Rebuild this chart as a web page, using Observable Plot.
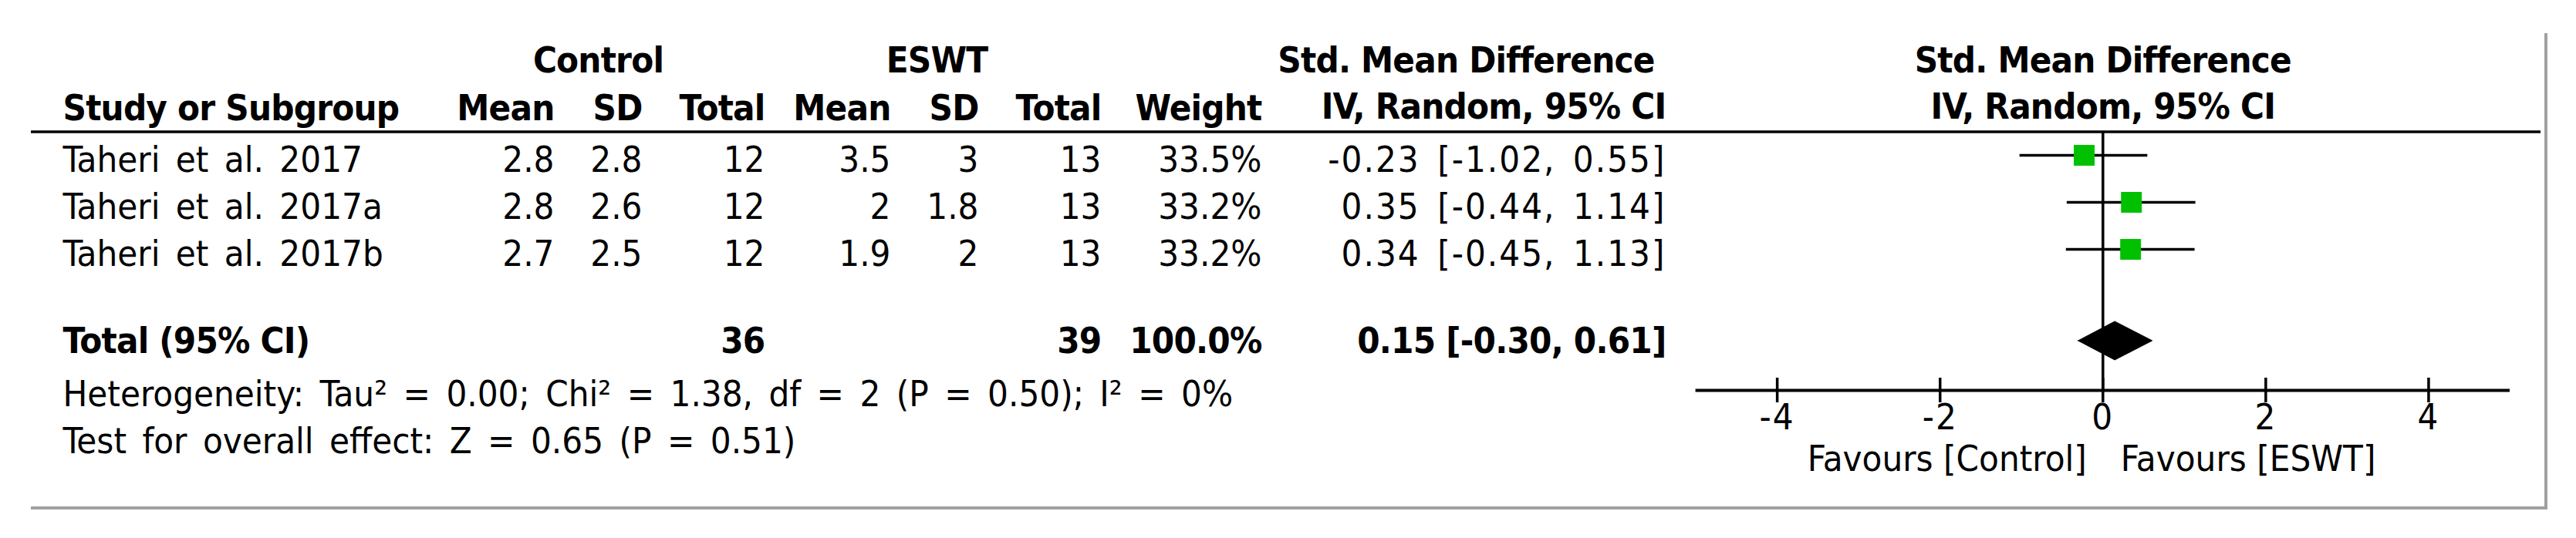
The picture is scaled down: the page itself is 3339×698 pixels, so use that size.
<!DOCTYPE html>
<html><head><meta charset="utf-8">
<script src="https://cdn.jsdelivr.net/npm/d3@7"></script>
<script src="https://cdn.jsdelivr.net/npm/@observablehq/plot@0.6"></script>
<style>
html,body{margin:0;padding:0;background:#fff;}
#wrap{position:relative;width:3339px;height:698px;overflow:hidden;}
#frame{position:absolute;left:40px;top:43px;width:3258px;height:614px;border-right:4px solid #a0a0a0;border-bottom:4px solid #a0a0a0;pointer-events:none;}
#chart{position:absolute;left:0;top:0;}
g[font-style="normal"] text{word-spacing:7px;}
g[font-variant="tabular-nums"] text{letter-spacing:2px;}
g[font-weight="bold"] text{letter-spacing:-0.8px;word-spacing:0;}
</style></head><body>
<div id="wrap"><div id="chart"></div><div id="frame"></div></div>
<script>
// ---- data ----
const studies = ["Taheri et al. 2017", "Taheri et al. 2017a", "Taheri et al. 2017b"];
const controlMean = [2.8, 2.8, 2.7];
const controlSD = [2.8, 2.6, 2.5];
const controlTotal = [12, 12, 12];
const eswtMean = [3.5, 2, 1.9];
const eswtSD = [3, 1.8, 2];
const eswtTotal = [13, 13, 13];
const weights = [33.5, 33.2, 33.2];
const smd = [-0.23, 0.35, 0.34];
const ciLow = [-1.02, -0.44, -0.45];
const ciHigh = [0.55, 1.14, 1.13];
const totalLabel = "Total (95% CI)";
const totalControl = 36;
const totalEswt = 39;
const totalWeight = 100.0;
const totalSmd = 0.15;
const totalLow = -0.30;
const totalHigh = 0.61;
const heterogeneity = "Heterogeneity: Tau² = 0.00; Chi² = 1.38, df = 2 (P = 0.50); I² = 0%";
const overallEffect = "Test for overall effect: Z = 0.65 (P = 0.51)";
const xTicks = [-4, -2, 0, 2, 4];
const xDomain = [-5, 5];
const favoursLeft = "Favours [Control]";
const favoursRight = "Favours [ESWT]";
const groupHeaders = ["Control", "ESWT"];
const colHeaders = ["Study or Subgroup", "Mean", "SD", "Total", "Mean", "SD", "Total", "Weight"];
const effectHeader = ["Std. Mean Difference", "IV, Random, 95% CI"];

// ---- layout ----
const W = 3339, H = 698;
const FONT = "'DejaVu Sans Condensed', 'DejaVu Sans', sans-serif";
const FS = 47;
const mL = 40, mR = 46;
const col = {name: 81, cMean: 718, cSD: 832, cTotal: 991, eMean: 1154, eSD: 1268, eTotal: 1427, weight: 1635, ci: 2159};
const grpCenter = [775, 1214];
const effHeadCenter = 1900;
const n = studies.length;
const totalRow = n + 0.95;
const axisRow = n + 2;
const testRow = n + 3;

const fmt = v => String(v);
const f2 = v => v.toFixed(2);
const ciText = (e, l, h) => `${f2(e)} [${f2(l)}, ${f2(h)}]`;

const rows = studies.map((s, i) => ({
  study: s, row: i,
  cMean: controlMean[i], cSD: controlSD[i], cTotal: controlTotal[i],
  eMean: eswtMean[i], eSD: eswtSD[i], eTotal: eswtTotal[i],
  weight: weights[i], smd: smd[i], lo: ciLow[i], hi: ciHigh[i]
}));

const diamondH = 0.41;
const diamond = [
  {x: totalLow, y1: totalRow, y2: totalRow},
  {x: totalSmd, y1: totalRow - diamondH, y2: totalRow + diamondH},
  {x: totalHigh, y1: totalRow, y2: totalRow}
];

// a table-column text mark (x fixed by layout via frame anchor + dx)
function colText(data, value, x, opts = {}) {
  return Plot.text(data, {
    text: value, y: "row", frameAnchor: "left", dx: x - mL,
    textAnchor: "end", lineAnchor: "bottom", dy: 21.5,
    fontSize: FS, fill: "#000", fontStyle: "normal", ...opts
  });
}
const totalData = [{row: totalRow}];
const headRow1 = [{row: -2}], headRow2 = [{row: -1}];

const chart = Plot.plot({
  width: W, height: H,
  marginLeft: mL, marginRight: mR, marginTop: 0, marginBottom: H - 506,
  style: {fontFamily: FONT, fontSize: FS + "px", background: "transparent", color: "#000"},
  x: {type: "linear", domain: xDomain, range: [2197.6, 3253.0], axis: null},
  y: {type: "linear", domain: [0, 1], range: [201, 262], axis: null},
  marks: [
    // header line
    Plot.ruleY([-0.5], {stroke: "#000", strokeWidth: 3.5}),
    // group headers
    ...groupHeaders.map((g, k) => colText(headRow1, () => g, grpCenter[k],
      {textAnchor: "middle", fontWeight: "bold", dy: 14})),
    // column headers
    colText(headRow2, () => colHeaders[0], col.name, {textAnchor: "start", fontWeight: "bold", dy: 15}),
    ...[col.cMean, col.cSD, col.cTotal, col.eMean, col.eSD, col.eTotal, col.weight].map((cx, k) =>
      colText(headRow2, () => colHeaders[k + 1], cx, {fontWeight: "bold", dy: 15})),
    colText(headRow1, () => effectHeader[0], effHeadCenter, {textAnchor: "middle", fontWeight: "bold", dy: 14}),
    colText(headRow2, () => effectHeader[1], col.ci, {fontWeight: "bold", dy: 13}),
    // plot header (centred on the null line)
    Plot.text(headRow1, {text: () => effectHeader[0], x: () => 0, y: "row", textAnchor: "middle",
      lineAnchor: "bottom", dy: 14, fontWeight: "bold", fontSize: FS}),
    Plot.text(headRow2, {text: () => effectHeader[1], x: () => 0, y: "row", textAnchor: "middle",
      lineAnchor: "bottom", dy: 13, fontWeight: "bold", fontSize: FS}),
    // study rows
    colText(rows, "study", col.name, {textAnchor: "start"}),
    colText(rows, d => fmt(d.cMean), col.cMean),
    colText(rows, d => fmt(d.cSD), col.cSD),
    colText(rows, d => fmt(d.cTotal), col.cTotal),
    colText(rows, d => fmt(d.eMean), col.eMean),
    colText(rows, d => fmt(d.eSD), col.eSD),
    colText(rows, d => fmt(d.eTotal), col.eTotal),
    colText(rows, d => d.weight.toFixed(1) + "%", col.weight),
    colText(rows, d => ciText(d.smd, d.lo, d.hi), col.ci, {fontVariant: "tabular-nums"}),
    // total row
    colText(totalData, () => totalLabel, col.name, {textAnchor: "start", fontWeight: "bold", dy: 16}),
    colText(totalData, () => fmt(totalControl), col.cTotal, {fontWeight: "bold", dy: 16}),
    colText(totalData, () => fmt(totalEswt), col.eTotal, {fontWeight: "bold", dy: 16}),
    colText(totalData, () => totalWeight.toFixed(1) + "%", col.weight, {fontWeight: "bold", dy: 16}),
    colText(totalData, () => ciText(totalSmd, totalLow, totalHigh), col.ci, {fontWeight: "bold", dy: 16}),
    // footnotes
    colText([{row: axisRow}], () => heterogeneity, col.name, {textAnchor: "start", dy: 20}),
    colText([{row: testRow}], () => overallEffect, col.name, {textAnchor: "start", dy: 20}),
    // null line
    Plot.ruleX([0], {y1: -0.5, y2: axisRow, stroke: "#000", strokeWidth: 3.5}),
    // CIs
    Plot.ruleY(rows, {y: "row", x1: "lo", x2: "hi", stroke: "#000", strokeWidth: 3.5}),
    Plot.dot(rows, {x: "smd", y: "row", symbol: "square", r: 15.2, fill: "#00c000", stroke: "none"}),
    // pooled diamond
    Plot.area(diamond, {x1: "x", y1: "y1", y2: "y2", fill: "#000", stroke: "#000", strokeWidth: 1, curve: "linear"}),
    // axis
    Plot.ruleY([axisRow], {x1: xDomain[0], x2: xDomain[1], stroke: "#000", strokeWidth: 4}),
    Plot.ruleX(xTicks, {y1: axisRow, y2: axisRow, insetTop: -16, insetBottom: -16, stroke: "#000", strokeWidth: 3.5}),
    Plot.axisX({ticks: xTicks, tickFormat: d => String(d), tickSize: 0, tickPadding: 17.6, anchor: "bottom",
      label: null, fontSize: FS, fill: "#000"}),
    Plot.text([favoursLeft], {text: d => d, x: () => 0, y: () => testRow, dx: -21, textAnchor: "end",
      lineAnchor: "bottom", dy: 43, fontSize: FS}),
    Plot.text([favoursRight], {text: d => d, x: () => 0, y: () => testRow, dx: 23, textAnchor: "start",
      lineAnchor: "bottom", dy: 43, fontSize: FS})
  ]
});
document.getElementById("chart").appendChild(chart);
</script>
</body></html>
